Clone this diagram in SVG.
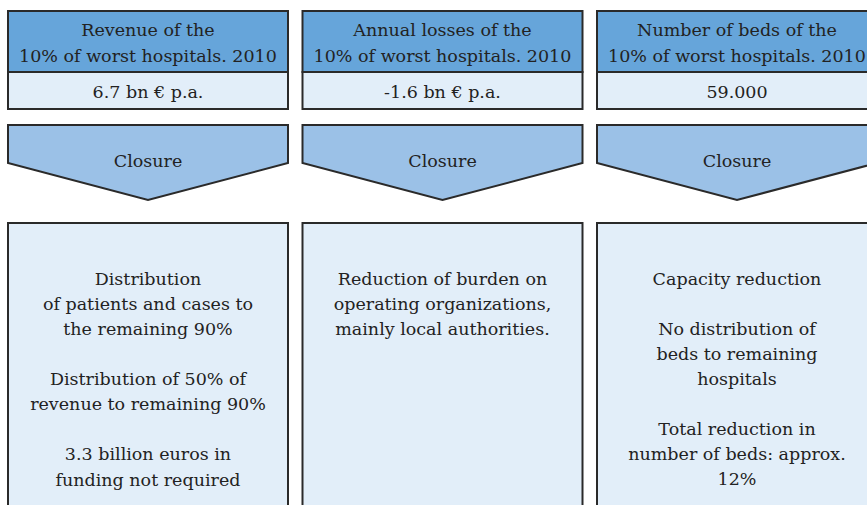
<svg xmlns="http://www.w3.org/2000/svg" width="867" height="505" viewBox="0 0 867 505">
<style>
.hd{fill:#66a5da;stroke:#2a2a2a;stroke-width:2}
.vl{fill:#e2eef9;stroke:#2a2a2a;stroke-width:2}
.ch{fill:#9bc1e7;stroke:#2a2a2a;stroke-width:2}
.bx{fill:#e2eef9;stroke:#2a2a2a;stroke-width:2}
.t{font-family:'DejaVu Serif',serif;font-size:17.5px;fill:#222;text-anchor:middle}
</style>
<rect width="867" height="505" fill="#ffffff"/>
<g id="col1">
<g id="header1"><rect class="hd" x="8" y="11" width="280" height="61"/><text class="t" x="148" y="36">Revenue of the</text><text class="t" x="148" y="62">10% of worst hospitals. 2010</text></g>
<g id="value1"><rect class="vl" x="8" y="72" width="280" height="37"/><text class="t" x="148" y="98">6.7 bn € p.a.</text></g>
<g id="closure1"><polygon class="ch" points="8,125 288,125 288,163 148,200 8,163"/><text class="t" x="148" y="167">Closure</text></g>
<g id="result1"><rect class="bx" x="8" y="223" width="280" height="300"/>
<text class="t" x="148" y="285">Distribution</text><text class="t" x="148" y="310">of patients and cases to</text><text class="t" x="148" y="335">the remaining 90%</text>
<text class="t" x="148" y="385">Distribution of 50% of</text><text class="t" x="148" y="410">revenue to remaining 90%</text>
<text class="t" x="148" y="460">3.3 billion euros in</text><text class="t" x="148" y="486">funding not required</text></g>
</g>
<g id="col2">
<g id="header2"><rect class="hd" x="302.5" y="11" width="280" height="61"/><text class="t" x="442.5" y="36">Annual losses of the</text><text class="t" x="442.5" y="62">10% of worst hospitals. 2010</text></g>
<g id="value2"><rect class="vl" x="302.5" y="72" width="280" height="37"/><text class="t" x="442.5" y="98">-1.6 bn € p.a.</text></g>
<g id="closure2"><polygon class="ch" points="302.5,125 582.5,125 582.5,163 442.5,200 302.5,163"/><text class="t" x="442.5" y="167">Closure</text></g>
<g id="result2"><rect class="bx" x="302.5" y="223" width="280" height="300"/>
<text class="t" x="442.5" y="285">Reduction of burden on</text><text class="t" x="442.5" y="310">operating organizations,</text><text class="t" x="442.5" y="335">mainly local authorities.</text></g>
</g>
<g id="col3">
<g id="header3"><rect class="hd" x="597" y="11" width="280" height="61"/><text class="t" x="737" y="36">Number of beds of the</text><text class="t" x="737" y="62">10% of worst hospitals. 2010</text></g>
<g id="value3"><rect class="vl" x="597" y="72" width="280" height="37"/><text class="t" x="737" y="98">59.000</text></g>
<g id="closure3"><polygon class="ch" points="597,125 877,125 877,163 737,200 597,163"/><text class="t" x="737" y="167">Closure</text></g>
<g id="result3"><rect class="bx" x="597" y="223" width="280" height="300"/>
<text class="t" x="737" y="285">Capacity reduction</text>
<text class="t" x="737" y="335">No distribution of</text><text class="t" x="737" y="360">beds to remaining</text><text class="t" x="737" y="385">hospitals</text>
<text class="t" x="737" y="435">Total reduction in</text><text class="t" x="737" y="460">number of beds: approx.</text><text class="t" x="737" y="485">12%</text></g>
</g>
<g id="connectors"></g>
</svg>
